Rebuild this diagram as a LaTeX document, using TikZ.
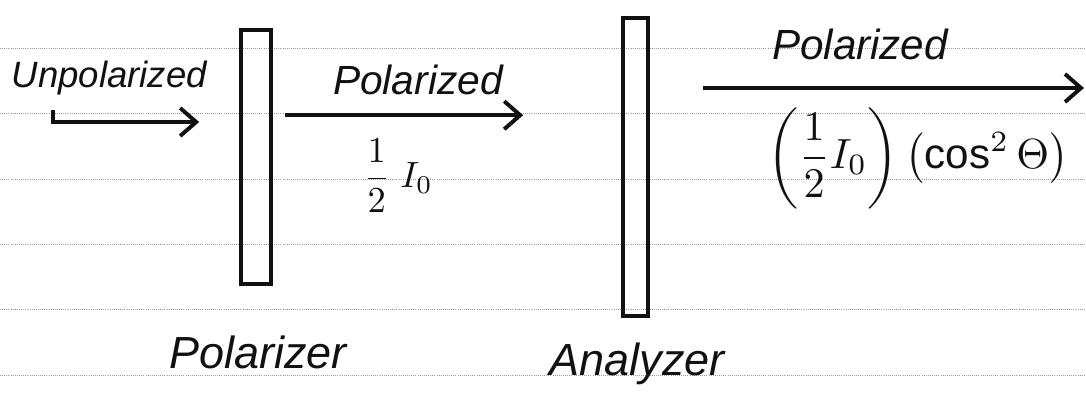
\documentclass[tikz,border=0pt]{standalone}
\usepackage{fontspec}
\setmainfont{Liberation Sans}
\usetikzlibrary{arrows.meta, positioning}
\definecolor{cink}{HTML}{111111}
\definecolor{crule}{HTML}{9A9A9A}
\tikzset{
  every picture/.style={line width=2.6pt},
  hand/.style={font=\fontsize{#1}{#1}\selectfont\itshape, text=cink, inner sep=1pt},
  hand/.default=30,
  eqn/.style={text=cink, inner sep=1pt, scale=#1},
  eqn/.default=2.4,
  plate/.style={draw=cink, rectangle, minimum width=#1, inner sep=0pt},
  plate/.default=0.75cm,
  ray/.style={-{Straight Barb[length=4mm, width=7mm]}, draw=cink, line width=2.8pt},
  rule/.style={crule, densely dotted, line width=0.5pt},
}

\begin{document}
\begin{tikzpicture}
  \useasboundingbox (0,0) rectangle (27.15,-9.9);
  % ruled paper
  \foreach \y in {-1.2, -2.84, -4.475, -6.1, -7.74, -9.375}
    \draw[rule] (0,\y) -- (27.15,\y);
  % the two plates
  \node[plate, minimum height=6.35cm] (pol) at (6.4,-3.93) {};
  \node[plate=0.63cm, minimum height=7.45cm] (ana) at (15.89,-4.18) {};
  % labels
  \node[hand=26] (unp) at (2.73,-1.95) {Unpolarized};
  \node[hand=29] (pz1) at (10.45,-2.0) {Polarized};
  \node[hand=30] (pz2) at (21.5,-1.1) {Polarized};
  \node[eqn=2.6] (half) at (9.95,-4.4) {$\displaystyle\frac{1}{2}\;I_0$};
  \node[eqn=3.0] (frm) at (22.95,-3.95) {$\displaystyle\left(\frac{1}{2}I_0\right)\left(\cos^2\Theta\right)$};
  \node[hand=32] (lpol) at (6.45,-8.8) {Polarizer};
  \node[hand=32] (lana) at (15.93,-9.1) {Analyzer};
  % rays
  \coordinate (r1) at (1.33,-3.05);
  \coordinate (r2) at (7.13,-2.88);
  \coordinate (r3) at (17.58,-2.2);
  \draw[ray] ([yshift=3mm]r1) -- (r1) -- ([xshift=-1cm]pol.west |- r1);
  \draw[ray] (r2) -- ([xshift=13.08cm-7.13cm]r2);
  \draw[ray] (r3) -- ([xshift=27.1cm-17.58cm]r3);
\end{tikzpicture}
\end{document}
